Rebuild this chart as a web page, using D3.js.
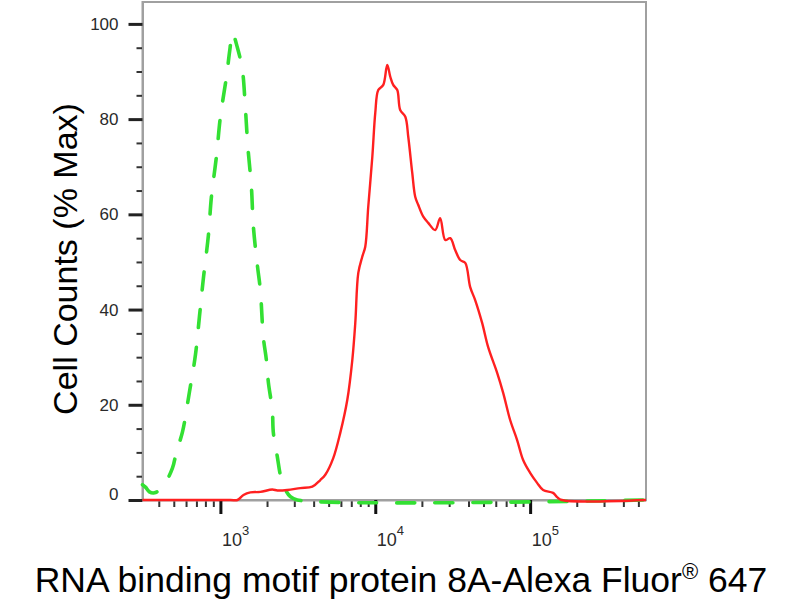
<!DOCTYPE html>
<html>
<head>
<meta charset="utf-8">
<script src="https://cdn.jsdelivr.net/npm/d3@7/dist/d3.min.js"></script>
<style>
  html, body { margin: 0; padding: 0; background: #fff; }
  svg { display: block; font-family: Arial, "Liberation Sans", Helvetica, sans-serif; }
</style>
</head>
<body>
<svg id="chart" width="800" height="600"></svg>
<script>
// ---- data ----
const isotypeX = [314, 328, 348, 375, 423, 490, 520, 569, 631, 690, 732, 776, 837, 875, 942, 1000, 1094, 1150, 1195, 1288, 1387, 1449, 1504, 1585, 1633, 1734, 1811, 1893, 1981, 2042, 2163, 2198, 2333, 2438, 2600, 2830, 3140, 560000];
const isotypeY = [3.2, 2.7, 1.7, 1.5, 2.7, 6.7, 10.1, 14.3, 22.7, 30.5, 38.5, 46.5, 55.7, 63.7, 72.1, 80.5, 88.9, 94.5, 98.1, 95.0, 90.3, 82.4, 74.2, 65.8, 57.4, 49.2, 44.1, 34.2, 29.4, 24.6, 18.9, 14.1, 9.0, 5.3, 2.5, 0.7, 0, 0];

const sampleX = [314, 1161, 1288, 1409, 1561, 1811, 2163, 2333, 2704, 3281, 3923, 4418, 4757, 5354, 5943, 6595, 7107, 7430, 7770, 8241, 8617, 9009, 9572, 10000, 10455, 11266, 11950, 12500, 13060, 13870, 14490, 15630, 16330, 17330, 18110, 18930, 20420, 21980, 24380, 26250, 28310, 30480, 32810, 35340, 38100, 41020, 44160, 48980, 53580, 61240, 66980, 74300, 82410, 90120, 100000, 110900, 121300, 140600, 149300, 160000, 560000];
const sampleY = [0, 0, 0, 1.05, 1.6, 1.7, 2.2, 2.0, 2.1, 2.5, 2.8, 4.2, 5.3, 8.8, 14.1, 21.0, 29.4, 37.2, 47.7, 51.1, 53.2, 61.6, 72.1, 81.3, 86.1, 87.2, 91.4, 88.9, 87.2, 86.1, 81.9, 80.5, 76.3, 68.7, 63.7, 62.0, 59.5, 58.2, 56.7, 59.2, 54.6, 55.0, 52.5, 50.4, 49.8, 44.7, 42.0, 37.2, 32.1, 26.7, 22.5, 16.8, 12.6, 8.4, 5.7, 3.6, 2.1, 1.5, 0.6, 0, 0];

const yMajorTicks = [0, 20, 40, 60, 80, 100];
const yMinorTicks = [5, 10, 15, 25, 30, 35, 45, 50, 55, 65, 70, 75, 85, 90, 95];
const xMajorTicks = [1000, 10000, 100000];
const xMajorExponents = ["3", "4", "5"];
const xMinorTicks = [400, 500, 600, 700, 800, 900, 2000, 3000, 4000, 5000, 6000, 7000, 8000, 9000,
                     20000, 30000, 40000, 50000, 60000, 70000, 80000, 90000, 200000, 300000, 400000, 500000];
const xDomain = [314, 560000];
const yDomain = [0, 104.6];
const yTitle = "Cell Counts (% Max)";
const xTitleMain = "RNA binding motif protein 8A-Alexa Fluor";
const xTitleSup = "®";
const xTitleEnd = " 647";

// ---- layout ----
const plotL = 142.5, plotR = 646, plotT = 2, plotB = 500;
const svg = d3.select("#chart");

const x = d3.scaleLog().domain(xDomain).range([plotL, plotR]);
const y = d3.scaleLinear().domain(yDomain).range([plotB, plotT]);

// frame
svg.append("rect")
  .attr("x", plotL).attr("y", plotT)
  .attr("width", plotR - plotL).attr("height", plotB - plotT)
  .attr("fill", "none").attr("stroke", "#a0a0a0").attr("stroke-width", 2);

// y axis minor
svg.append("g").attr("transform", `translate(${plotL},0)`)
  .call(d3.axisLeft(y).tickValues(yMinorTicks).tickSize(6).tickSizeOuter(0).tickFormat(""))
  .call(g => g.select(".domain").remove())
  .call(g => g.selectAll(".tick line").attr("stroke", "#333").attr("stroke-width", 2));

// y axis major
const yAx = svg.append("g").attr("transform", `translate(${plotL},0)`)
  .call(d3.axisLeft(y).tickValues(yMajorTicks).tickSize(14).tickSizeOuter(0).tickPadding(10))
  .call(g => g.select(".domain").attr("stroke", "#a0a0a0").attr("stroke-width", 2))
  .call(g => g.selectAll(".tick line").attr("stroke", "#222").attr("stroke-width", 3));
yAx.selectAll(".tick text")
  .attr("font-size", 17).attr("fill", "#2a2a2a")
  .attr("font-family", "Arial, 'Liberation Sans', sans-serif")
  .attr("dy", d => d === 0 ? "-0.02em" : "0.32em");

// x axis minor
svg.append("g").attr("transform", `translate(0,${plotB})`)
  .call(d3.axisBottom(x).tickValues(xMinorTicks).tickSize(7).tickSizeOuter(0).tickFormat(""))
  .call(g => g.select(".domain").remove())
  .call(g => g.selectAll(".tick line").attr("stroke", "#333").attr("stroke-width", 2));

// x axis major
svg.append("g").attr("transform", `translate(0,${plotB})`)
  .call(d3.axisBottom(x).tickValues(xMajorTicks).tickSize(14).tickSizeOuter(0).tickFormat(""))
  .call(g => g.select(".domain").attr("stroke", "#a0a0a0").attr("stroke-width", 2))
  .call(g => g.selectAll(".tick line").attr("stroke", "#111").attr("stroke-width", 3));

// x tick labels 10^n
xMajorTicks.forEach((v, i) => {
  const px = x(v);
  svg.append("text")
    .attr("x", px + 1.5).attr("y", 546)
    .attr("font-size", 18).attr("fill", "#2a2a2a")
    .text("10");
  svg.append("text")
    .attr("x", px + 21.5).attr("y", 535)
    .attr("font-size", 13).attr("fill", "#2a2a2a")
    .text(xMajorExponents[i]);
});

// curves
const iso = isotypeX.map((v, i) => [v, isotypeY[i]]);
const samp = sampleX.map((v, i) => [v, sampleY[i]]);

svg.append("path").datum(iso)
  .attr("d", d3.line().x(d => x(d[0])).y(d => y(d[1])).curve(d3.curveCatmullRom.alpha(0.5)))
  .attr("fill", "none").attr("stroke", "#33e033").attr("stroke-width", 3.6)
  .attr("stroke-dasharray", "18,20").attr("stroke-linecap", "round");

svg.append("path").datum(samp)
  .attr("d", d3.line().x(d => x(d[0])).y(d => y(d[1])).curve(d3.curveCatmullRom.alpha(0.5)))
  .attr("fill", "none").attr("stroke", "#ff2020").attr("stroke-width", 2.4)
  .attr("stroke-linejoin", "round");

// axis titles
svg.append("text")
  .attr("transform", `translate(77,259) rotate(-90)`)
  .attr("text-anchor", "middle")
  .attr("font-size", 34).attr("fill", "#000")
  .text(yTitle);

const xt = svg.append("text")
  .attr("x", 401).attr("y", 592)
  .attr("text-anchor", "middle")
  .attr("font-size", 35.5).attr("fill", "#000");
xt.append("tspan").text(xTitleMain);
xt.append("tspan").attr("font-size", 22).attr("dy", -13).text(xTitleSup);
xt.append("tspan").attr("dy", 13).text(xTitleEnd);
</script>
</body>
</html>
